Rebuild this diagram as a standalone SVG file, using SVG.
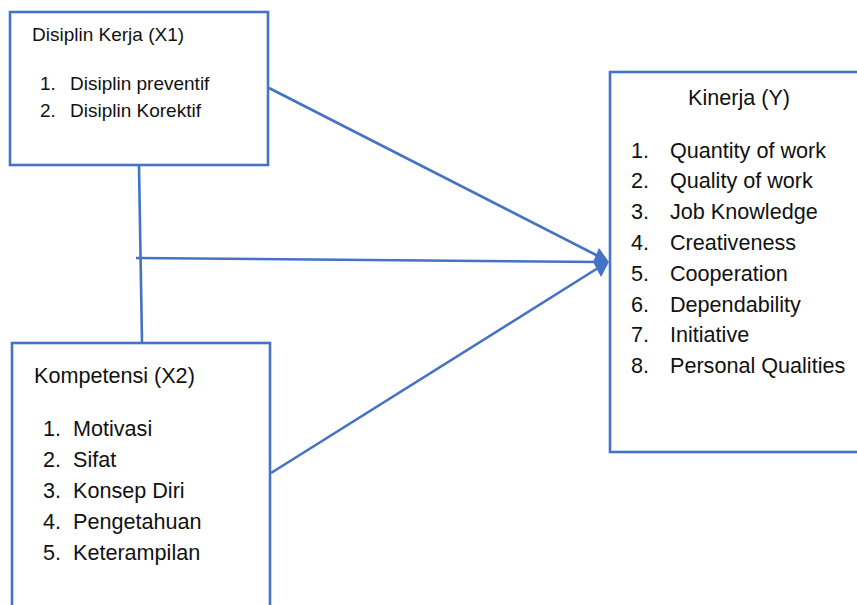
<svg xmlns="http://www.w3.org/2000/svg" width="857" height="605" viewBox="0 0 857 605">
<style>
.box{fill:#ffffff;stroke:#4472C4;stroke-width:2.6}
.ln{fill:none;stroke:#4472C4;stroke-width:2.6}
.t{font-family:"Liberation Sans",Arial,sans-serif;fill:#111111}
.s19{font-size:19px}
.s21{font-size:21.6px}
</style>
<rect width="857" height="605" fill="#ffffff"/>
<g id="connectors">
<line class="ln" x1="139" y1="166" x2="142" y2="342"/>
<line class="ln" x1="136" y1="258" x2="600" y2="262"/>
<line class="ln" x1="269" y1="88" x2="598" y2="256"/>
<line class="ln" x1="271" y1="473" x2="598" y2="268"/>
<polygon points="593,262 599,248 609,262 601,277" fill="#4472C4"/>
</g>
<g id="disiplin">
<rect class="box" x="10" y="12" width="258" height="153"/>
<text class="t s19" x="32" y="41">Disiplin Kerja (X1)</text>
<text class="t s19" x="40" y="90">1.</text><text class="t s19" x="70" y="90">Disiplin preventif</text>
<text class="t s19" x="40" y="117">2.</text><text class="t s19" x="70" y="117">Disiplin Korektif</text>
</g>
<g id="kompetensi">
<rect class="box" x="12" y="343" width="258" height="280"/>
<text class="t s21" x="34" y="383">Kompetensi (X2)</text>
<text class="t s21" x="43" y="436">1.</text><text class="t s21" x="73" y="436">Motivasi</text>
<text class="t s21" x="43" y="467">2.</text><text class="t s21" x="73" y="467">Sifat</text>
<text class="t s21" x="43" y="497.5">3.</text><text class="t s21" x="73" y="497.5">Konsep Diri</text>
<text class="t s21" x="43" y="528.5">4.</text><text class="t s21" x="73" y="528.5">Pengetahuan</text>
<text class="t s21" x="43" y="559.5">5.</text><text class="t s21" x="73" y="559.5">Keterampilan</text>
</g>
<g id="kinerja">
<rect class="box" x="610" y="72" width="270" height="380"/>
<text class="t s21" x="688" y="105">Kinerja (Y)</text>
<text class="t s21" x="631" y="157.5">1.</text><text class="t s21" x="670" y="157.5">Quantity of work</text>
<text class="t s21" x="631" y="188.4">2.</text><text class="t s21" x="670" y="188.4">Quality of work</text>
<text class="t s21" x="631" y="219.2">3.</text><text class="t s21" x="670" y="219.2">Job Knowledge</text>
<text class="t s21" x="631" y="250">4.</text><text class="t s21" x="670" y="250">Creativeness</text>
<text class="t s21" x="631" y="280.8">5.</text><text class="t s21" x="670" y="280.8">Cooperation</text>
<text class="t s21" x="631" y="311.6">6.</text><text class="t s21" x="670" y="311.6">Dependability</text>
<text class="t s21" x="631" y="342.4">7.</text><text class="t s21" x="670" y="342.4">Initiative</text>
<text class="t s21" x="631" y="373.2">8.</text><text class="t s21" x="670" y="373.2">Personal Qualities</text>
</g>
</svg>
